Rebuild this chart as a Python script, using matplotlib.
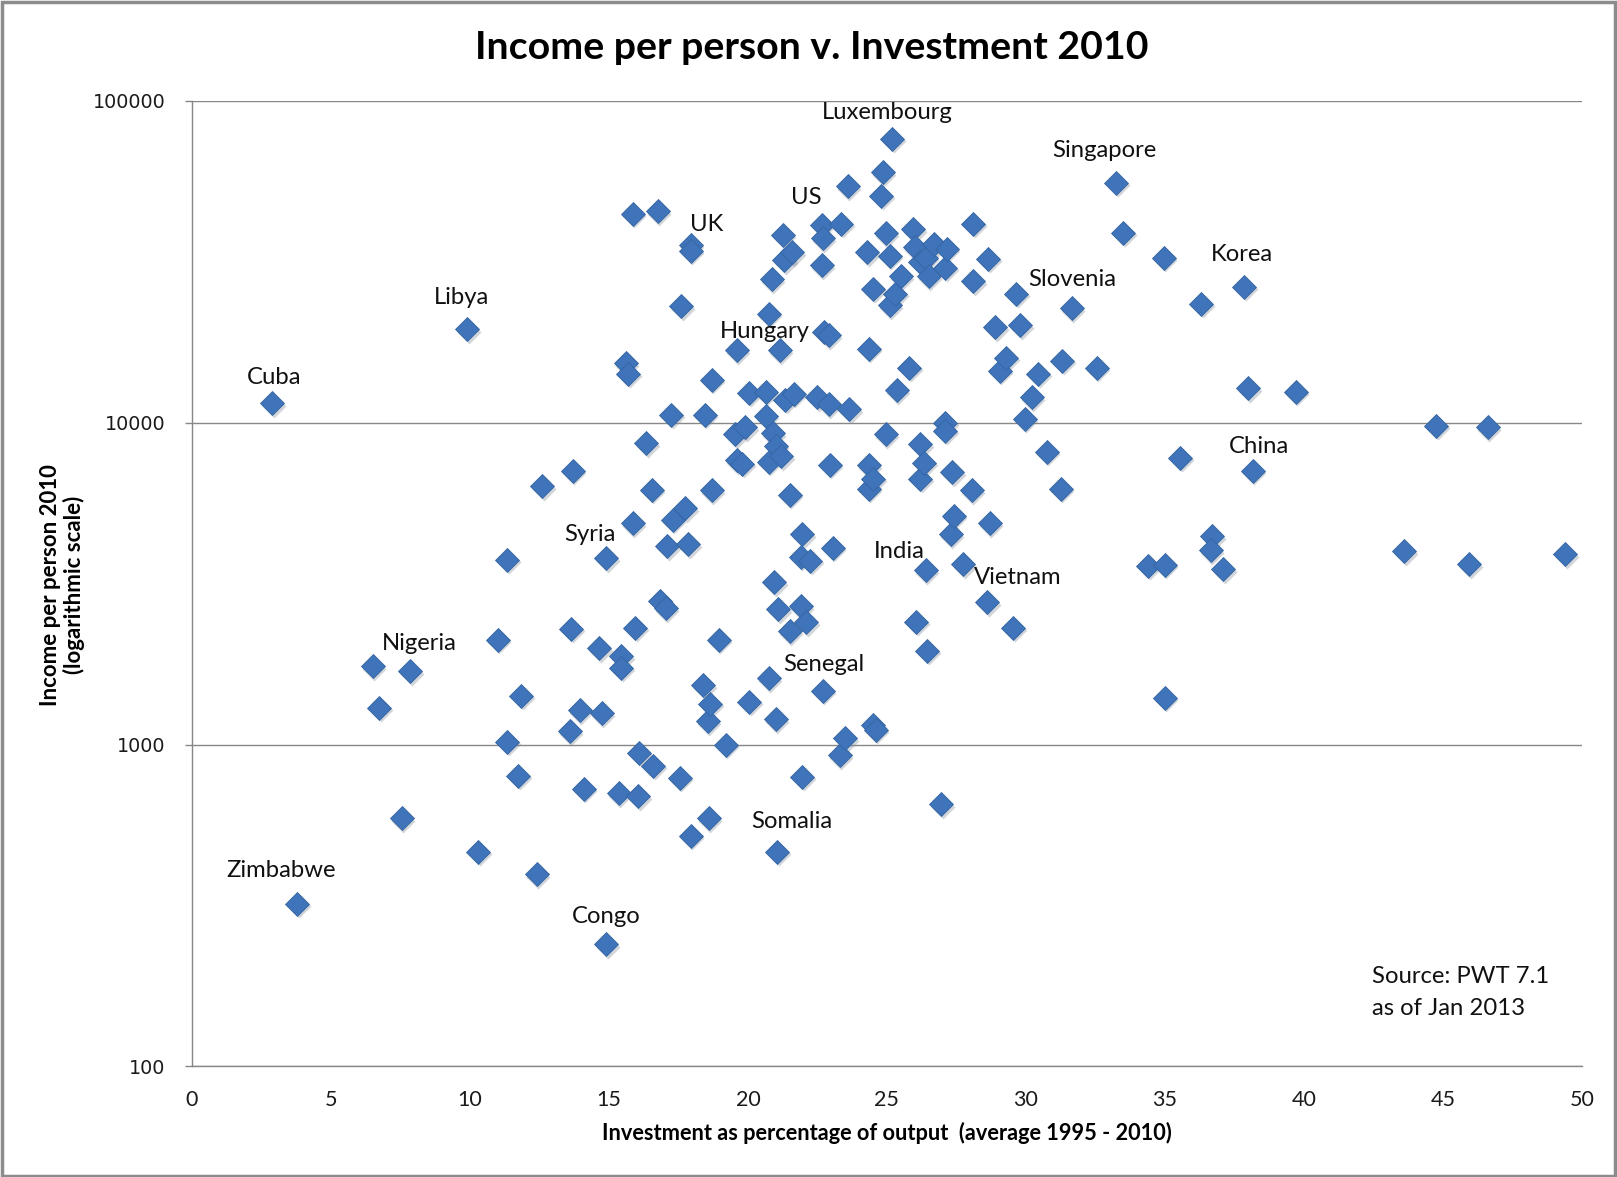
import matplotlib
matplotlib.use("Agg")
import matplotlib.pyplot as plt
from matplotlib import transforms
from matplotlib.patches import Rectangle

# investment share of output (avg 1995-2010, %) and income per person 2010
invest = [
    2.9, 3.8, 6.5, 6.75, 7.85, 7.55, 9.9, 10.3, 11.0, 11.35,
    11.35, 11.85, 11.75, 12.4, 12.6, 13.7, 13.65, 13.6, 13.95, 14.1,
    14.75, 14.65, 14.9, 14.9, 15.45, 15.45, 15.35, 15.6, 15.7, 15.85,
    15.85, 15.95, 16.1, 16.05, 16.35, 16.55, 16.6, 16.75, 16.85, 17.05,
    17.1, 17.3, 17.25, 17.55, 17.6, 17.75, 17.85, 17.95, 17.95, 17.95,
    18.4, 18.45, 18.55, 18.65, 18.7, 18.7, 18.6, 18.95, 19.2, 19.55,
    19.6, 19.6, 19.8, 19.9, 20.05, 20.05, 20.65, 20.65, 20.75, 20.75,
    20.75, 20.85, 20.9, 20.95, 21.0, 21.0, 21.05, 21.1, 21.15, 21.2,
    21.25, 21.3, 21.35, 21.5, 21.5, 21.6, 21.65, 21.9, 21.9, 21.95,
    21.95, 22.1, 22.25, 22.5, 22.65, 22.65, 22.7, 22.7, 22.75, 22.9,
    22.95, 22.9, 23.05, 23.3, 23.35, 23.5, 23.6, 23.65, 24.3, 24.35,
    24.35, 24.35, 24.5, 24.5, 24.5, 24.6, 24.85, 24.8, 24.95, 24.95,
    25.1, 25.1, 25.2, 25.3, 25.35, 25.5, 25.8, 25.95, 26.0, 26.2,
    26.2, 26.2, 26.35, 26.4, 26.4, 26.5, 26.05, 26.45, 26.7, 26.95,
    27.1, 27.1, 27.15, 27.1, 27.3, 27.35, 27.4, 27.75, 28.05, 28.1,
    28.1, 28.6, 28.65, 28.7, 28.9, 29.05, 29.3, 29.55, 29.65, 29.8,
    29.95, 30.2, 30.45, 30.75, 31.25, 31.3, 31.65, 32.55, 33.25, 33.5,
    34.4, 34.95, 35.0, 35.0, 35.55, 36.3, 36.7, 36.65, 37.1, 37.85,
    38.0, 38.15, 39.7, 43.6, 44.75, 45.95, 46.6, 49.4,
]
income = [
    11500, 320, 1750, 1300, 1690, 590, 19500, 465, 2120, 3750,
    1020, 1420, 800, 395, 6350, 7100, 2290, 1100, 1280, 730,
    1250, 1990, 3790, 240, 1880, 1730, 705, 15300, 14200, 44700,
    4880, 2310, 943, 690, 8630, 6200, 860, 45400, 2800, 2650,
    4130, 5000, 10600, 790, 23000, 5420, 4200, 520, 35700, 34200,
    1530, 10600, 1180, 1340, 13600, 6170, 590, 2120, 1000, 9220,
    7660, 16800, 7450, 9700, 12400, 1360, 12500, 10500, 21800, 7560,
    1610, 27900, 9290, 3190, 8470, 1200, 465, 2630, 16800, 7880,
    38400, 32000, 11800, 5970, 2250, 33900, 12300, 2690, 3830, 795,
    4510, 2400, 3730, 12000, 30900, 41300, 1470, 37500, 19200, 11400,
    7400, 18700, 4090, 925, 41500, 1045, 54300, 11000, 33900, 17000,
    6230, 7380, 6690, 26100, 1150, 1110, 60000, 50700, 38800, 9200,
    33000, 23200, 76300, 25200, 12600, 28500, 14800, 40000, 35100, 8570,
    31600, 6690, 7500, 32600, 3480, 28500, 2410, 1960, 35900, 652,
    10000, 30300, 34800, 9440, 4510, 7020, 5150, 3630, 6170, 41500,
    27500, 2770, 32300, 4880, 19800, 14500, 15900, 2310, 25200, 20100,
    10300, 12000, 14200, 8140, 6230, 15600, 22700, 14800, 55700, 39000,
    3600, 32600, 3620, 1400, 7800, 23400, 4440, 4020, 3500, 26500,
    12800, 7100, 12500, 3990, 9800, 3640, 9700, 3900,
]

# named countries: (name, investment, income)
labelled = [
    ("Luxembourg", 25.2, 76300),
    ("Singapore", 33.25, 55700),
    ("Korea", 37.85, 26500),
    ("Slovenia", 31.65, 22700),
    ("US", 22.65, 41300),
    ("UK", 17.95, 35700),
    ("Libya", 9.9, 19500),
    ("Cuba", 2.9, 11500),
    ("Hungary", 21.15, 16800),
    ("China", 38.15, 7100),
    ("Syria", 14.9, 3790),
    ("India", 26.4, 3480),
    ("Vietnam", 28.6, 2770),
    ("Nigeria", 7.85, 1690),
    ("Senegal", 22.7, 1470),
    ("Somalia", 21.05, 465),
    ("Zimbabwe", 3.8, 320),
    ("Congo", 14.9, 240),
]
label_offsets = {
    "Luxembourg": (-5, 26), "Singapore": (-12, 32), "Korea": (-2, 32),
    "Slovenia": (0, 29), "US": (-15, 27), "UK": (16, 20), "Libya": (-6, 32),
    "Cuba": (2, 26), "Hungary": (-15, 19), "China": (6, 24), "Syria": (-16, 24),
    "India": (-27, 19), "Vietnam": (31, 25), "Nigeria": (9, 28),
    "Senegal": (1, 26), "Somalia": (15, 30), "Zimbabwe": (-16, 33),
    "Congo": (0, 28),
}

TXT = "Lato"
fig = plt.figure(figsize=(16.17, 11.77), dpi=100)
ax = fig.add_axes([0.1186, 0.094, 0.8598, 0.8202])

# soft drop shadow under each diamond
shadow = transforms.offset_copy(ax.transData, fig=fig, x=1.5, y=-2.5, units="dots")
ax.plot(invest, income, ls="none", marker="D", ms=11.8, color="#7f8a99",
        alpha=0.35, mec="none", transform=shadow, zorder=2)
ax.plot(invest, income, ls="none", marker="D", ms=11.8, color="#3f74ba",
        mec="#35649f", mew=0.6, zorder=3)

ax.set_yscale("log")
ax.set_xlim(0, 50)
ax.set_ylim(100, 100000)
ax.set_xticks(range(0, 51, 5))
ax.set_yticks([100, 1000, 10000, 100000])
ax.set_yticklabels(["100", "1000", "10000", "100000"])
ax.yaxis.set_minor_locator(matplotlib.ticker.NullLocator())
ax.grid(axis="y", color="#878787", lw=1.0)
ax.set_axisbelow(True)

for s in ["top", "right"]:
    ax.spines[s].set_visible(False)
for s in ["left", "bottom"]:
    ax.spines[s].set_color("#878787")
    ax.spines[s].set_linewidth(1.0)

ax.tick_params(axis="y", length=5, width=1, color="#878787", pad=14,
               labelsize=13.8, labelcolor="#1a1a1a")
ax.tick_params(axis="x", length=0, pad=17, labelsize=15.5, labelcolor="#1a1a1a")
for t in ax.get_xticklabels():
    t.set_fontfamily(TXT)
for t in ax.get_yticklabels():
    t.set_fontfamily("DejaVu Sans")

for name, xv, yv in labelled:
    dx, dy = label_offsets[name]
    ax.annotate(name, xy=(xv, yv), xytext=(dx, dy), textcoords="offset pixels",
                ha="center", va="center", fontsize=17.2, family=TXT,
                color="#111111", zorder=4)

fig.text(0.502, 0.960, "Income per person v. Investment 2010", ha="center",
         va="center", fontsize=28.3, fontweight="bold", family=TXT)
fig.text(0.5485, 0.0375, "Investment as percentage of output  (average 1995 - 2010)",
         ha="center", va="center", fontsize=15.7, fontweight="bold", family=TXT)
fig.text(0.0385, 0.503, "Income per person 2010\n(logarithmic scale)", ha="center",
         va="center", rotation=90, fontsize=16, fontweight="bold", family=TXT,
         linespacing=1.12)
ax.text(0.8487, 0.0926, "Source: PWT 7.1", transform=ax.transAxes,
        ha="left", va="center", fontsize=17.2, family=TXT, color="#111111")
ax.text(0.8487, 0.0599, "as of Jan 2013", transform=ax.transAxes,
        ha="left", va="center", fontsize=17.2, family=TXT, color="#111111")

# grey frame round the whole figure
fig.patches.append(Rectangle((0.001, 0.001), 0.998, 0.997, transform=fig.transFigure,
                             fill=False, ec="#8c8c8c", lw=2.5))

fig.savefig("out.png", dpi=100)
